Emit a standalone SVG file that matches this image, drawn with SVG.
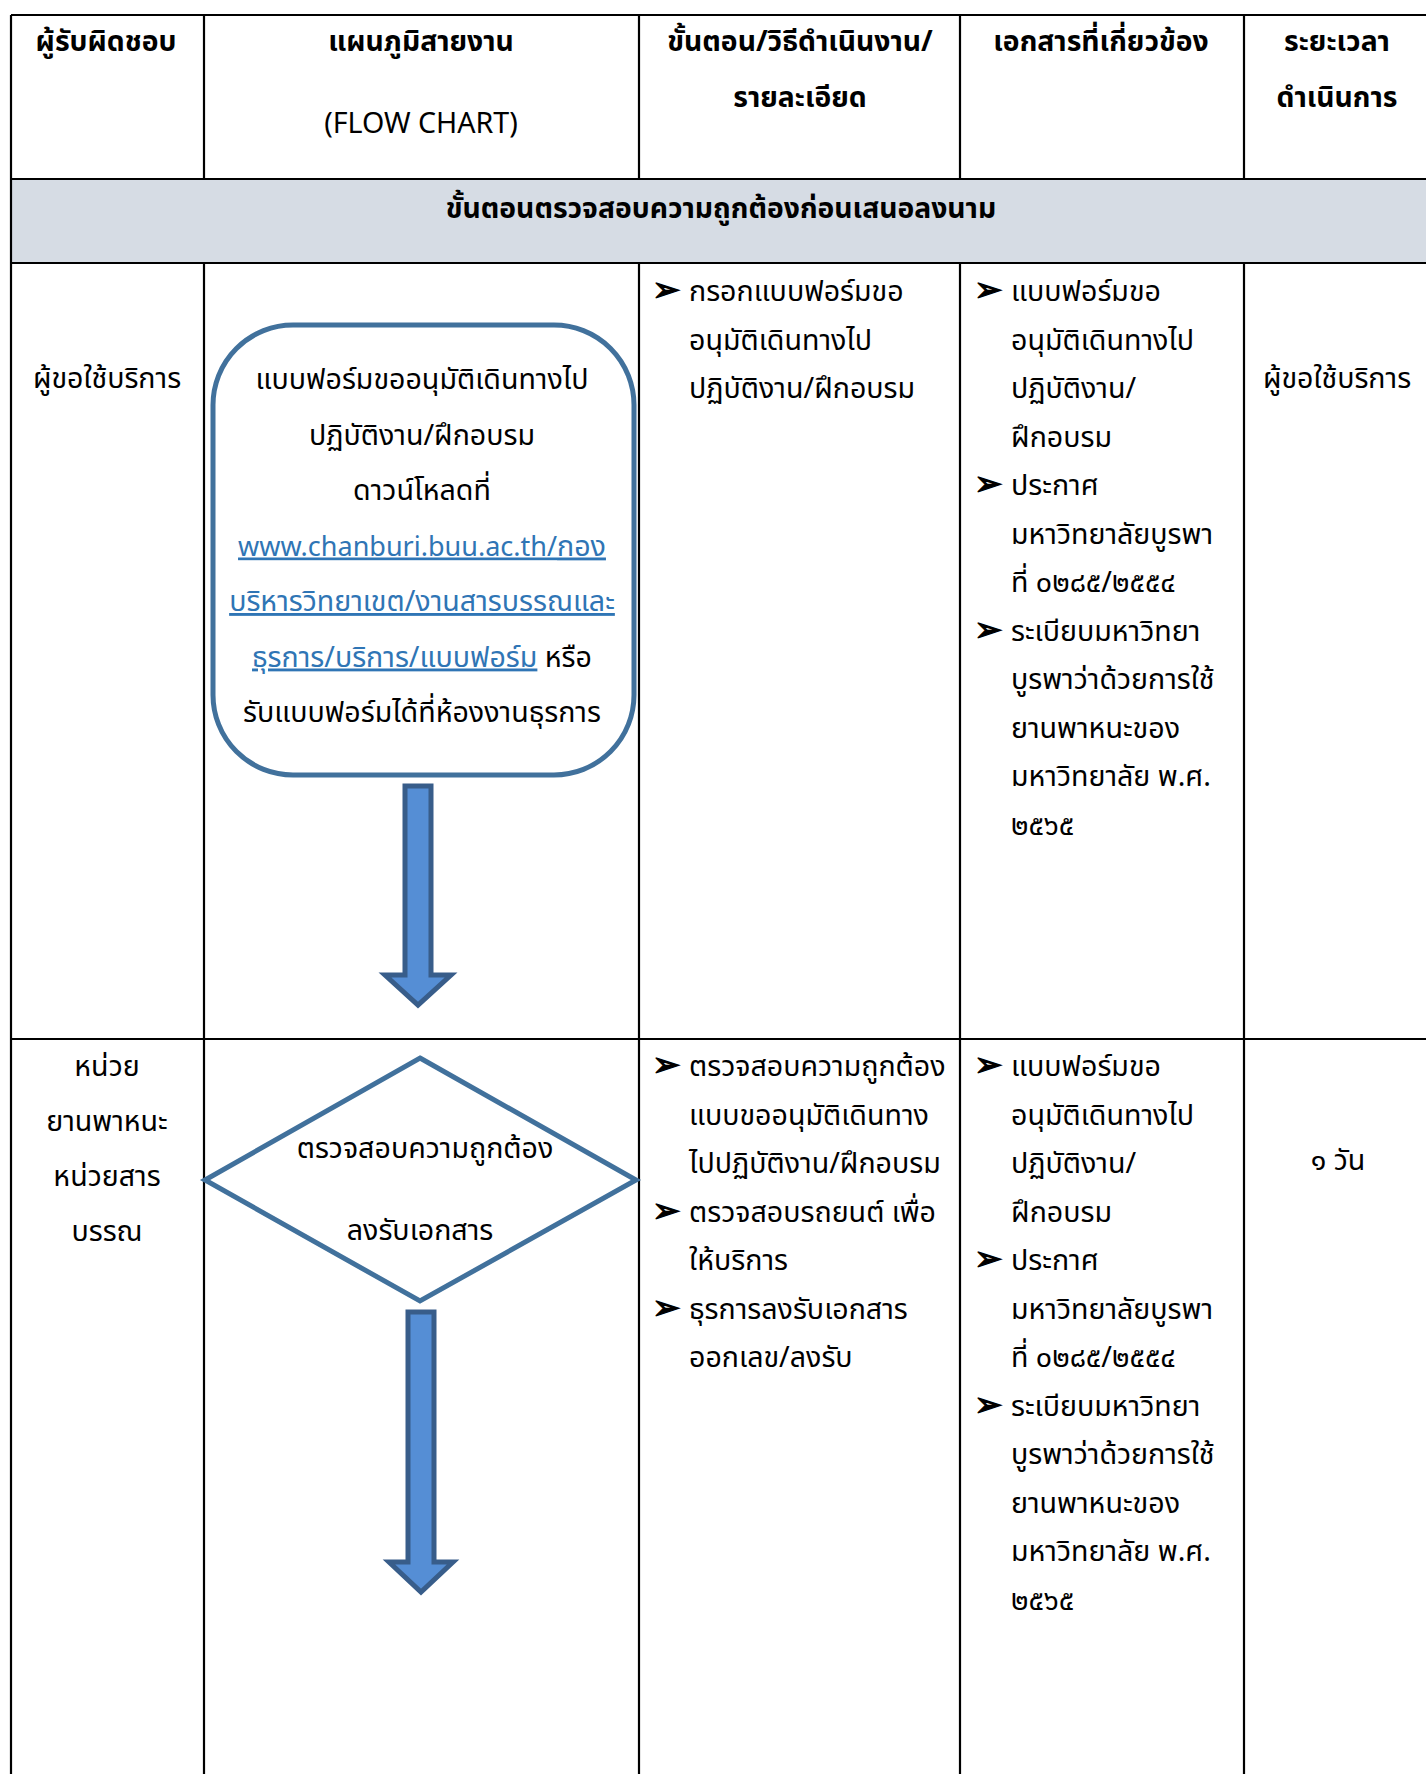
<svg xmlns="http://www.w3.org/2000/svg" width="1426" height="1774" viewBox="0 0 1426 1774">
<style>
text{font-family:"Noto Sans Thai","Leelawadee UI","Tahoma","DejaVu Sans",sans-serif;fill:#000}
.h{font-size:28.3px;font-weight:bold}
.t{font-size:28.6px}
.c{text-anchor:middle}
.lk{fill:#2F75B5;text-decoration:underline}
.lat{font-size:27px}
.grid{stroke:#000;stroke-width:2.2;fill:none}
.shape{stroke:#41719C;stroke-width:5;fill:#fff}
.blk{stroke:#385D8A;stroke-width:5;fill:#558ED5;stroke-linejoin:miter}
.bul{font-family:"DejaVu Sans",sans-serif;font-size:34px;stroke:#000;stroke-width:1.2}
</style>
<rect width="1426" height="1774" fill="#fff"/>
<g id="table">
<rect x="11" y="179" width="1420" height="84" fill="#D6DCE4"/>
<path class="grid" d="M11,15 H1430 M11,179 H1430 M11,263 H1430 M11,1039 H1430 M11,15 V1780 M204,15 V179 M639,15 V179 M960,15 V179 M1244,15 V179 M204,263 V1780 M639,263 V1780 M960,263 V1780 M1244,263 V1780"/>
</g>
<g id="header">
<text class="h c" x="106" y="51">ผู้รับผิดชอบ</text>
<text class="h c" x="421" y="51">แผนภูมิสายงาน</text>
<text class="t c" x="421" y="133">(FLOW CHART)</text>
<text class="h c" x="800" y="51">ขั้นตอน/วิธีดำเนินงาน/</text>
<text class="h c" x="800" y="107">รายละเอียด</text>
<text class="h c" x="1101" y="51">เอกสารที่เกี่ยวข้อง</text>
<text class="h c" x="1337" y="51">ระยะเวลา</text>
<text class="h c" x="1337" y="107">ดำเนินการ</text>
<text class="h c" x="721" y="218">ขั้นตอนตรวจสอบความถูกต้องก่อนเสนอลงนาม</text>
</g>
<g id="row1-cells">
<text class="t c" x="107" y="388">ผู้ขอใช้บริการ</text>
<text class="bul" x="652" y="301">➢</text>
<text class="t" x="689" y="301">กรอกแบบฟอร์มขอ</text>
<text class="t" x="689" y="349.5">อนุมัติเดินทางไป</text>
<text class="t" x="689" y="398">ปฏิบัติงาน/ฝึกอบรม</text>
<text class="bul" x="974" y="301">➢</text>
<text class="t" x="1011" y="301">แบบฟอร์มขอ</text>
<text class="t" x="1011" y="349.5">อนุมัติเดินทางไป</text>
<text class="t" x="1011" y="398">ปฏิบัติงาน/</text>
<text class="t" x="1011" y="446.5">ฝึกอบรม</text>
<text class="bul" x="974" y="495">➢</text>
<text class="t" x="1011" y="495">ประกาศ</text>
<text class="t" x="1011" y="543.5">มหาวิทยาลัยบูรพา</text>
<text class="t" x="1011" y="592">ที่ ๐๒๘๕/๒๕๕๔</text>
<text class="bul" x="974" y="640.5">➢</text>
<text class="t" x="1011" y="640.5">ระเบียบมหาวิทยา</text>
<text class="t" x="1011" y="689">บูรพาว่าด้วยการใช้</text>
<text class="t" x="1011" y="737.5">ยานพาหนะของ</text>
<text class="t" x="1011" y="786">มหาวิทยาลัย พ.ศ.</text>
<text class="t" x="1011" y="834.5">๒๕๖๕</text>
<text class="t c" x="1337" y="388">ผู้ขอใช้บริการ</text>
</g>
<g id="node-form">
<rect class="shape" x="213" y="325" width="421" height="450" rx="80" ry="80"/>
<text class="t c" x="422" y="389">แบบฟอร์มขออนุมัติเดินทางไป</text>
<text class="t c" x="422" y="444.5">ปฏิบัติงาน/ฝึกอบรม</text>
<text class="t c" x="422" y="500">ดาวน์โหลดที่</text>
<text class="t c lk" x="422" y="555.5"><tspan class="lat">www.chanburi.buu.ac.th/</tspan>กอง</text>
<text class="t c lk" x="422" y="611">บริหารวิทยาเขต/งานสารบรรณและ</text>
<text class="t c" x="422" y="666.5"><tspan class="lk">ธุรการ/บริการ/แบบฟอร์ม</tspan> หรือ</text>
<text class="t c" x="422" y="722">รับแบบฟอร์มได้ที่ห้องงานธุรการ</text>
</g>
<g id="row2-cells">
<text class="t c" x="107" y="1076">หน่วย</text>
<text class="t c" x="107" y="1131">ยานพาหนะ</text>
<text class="t c" x="107" y="1186">หน่วยสาร</text>
<text class="t c" x="107" y="1241">บรรณ</text>
<text class="bul" x="652" y="1076">➢</text>
<text class="t" x="689" y="1076">ตรวจสอบความถูกต้อง</text>
<text class="t" x="689" y="1124.5">แบบขออนุมัติเดินทาง</text>
<text class="t" x="689" y="1173">ไปปฏิบัติงาน/ฝึกอบรม</text>
<text class="bul" x="652" y="1221.5">➢</text>
<text class="t" x="689" y="1221.5">ตรวจสอบรถยนต์ เพื่อ</text>
<text class="t" x="689" y="1270">ให้บริการ</text>
<text class="bul" x="652" y="1318.5">➢</text>
<text class="t" x="689" y="1318.5">ธุรการลงรับเอกสาร</text>
<text class="t" x="689" y="1367">ออกเลข/ลงรับ</text>
<text class="bul" x="974" y="1076">➢</text>
<text class="t" x="1011" y="1076">แบบฟอร์มขอ</text>
<text class="t" x="1011" y="1124.5">อนุมัติเดินทางไป</text>
<text class="t" x="1011" y="1173">ปฏิบัติงาน/</text>
<text class="t" x="1011" y="1221.5">ฝึกอบรม</text>
<text class="bul" x="974" y="1270">➢</text>
<text class="t" x="1011" y="1270">ประกาศ</text>
<text class="t" x="1011" y="1318.5">มหาวิทยาลัยบูรพา</text>
<text class="t" x="1011" y="1367">ที่ ๐๒๘๕/๒๕๕๔</text>
<text class="bul" x="974" y="1415.5">➢</text>
<text class="t" x="1011" y="1415.5">ระเบียบมหาวิทยา</text>
<text class="t" x="1011" y="1464">บูรพาว่าด้วยการใช้</text>
<text class="t" x="1011" y="1512.5">ยานพาหนะของ</text>
<text class="t" x="1011" y="1561">มหาวิทยาลัย พ.ศ.</text>
<text class="t" x="1011" y="1609.5">๒๕๖๕</text>
<text class="t c" x="1338" y="1170">๑ วัน</text>
</g>
<g id="node-check">
<polygon class="shape" points="420,1058 636,1180 420,1301 205,1180"/>
<text class="t c" x="425" y="1158">ตรวจสอบความถูกต้อง</text>
<text class="t c" x="420" y="1240">ลงรับเอกสาร</text>
</g>
<g id="connectors">
<path class="blk" d="M405,786 H431 V975 H451 L418,1005 L385,975 H405 Z"/>
<path class="blk" d="M408,1312 H434 V1562 H453 L421,1592 L389,1562 H408 Z"/>
</g>
</svg>
